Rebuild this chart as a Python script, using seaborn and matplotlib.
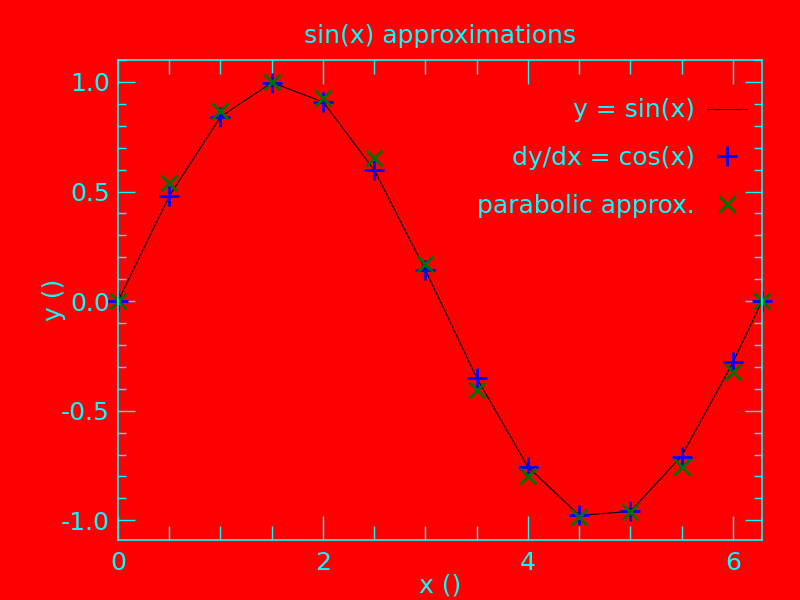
import numpy as np
import pandas as pd
import matplotlib
matplotlib.use('Agg')
import matplotlib.pyplot as plt
import seaborn as sns
from matplotlib.ticker import MultipleLocator, FormatStrFormatter

# data
x_vals = [0.0, 0.5, 1.0, 1.5, 2.0, 2.5, 3.0, 3.5, 4.0, 4.5, 5.0, 5.5, 6.0, 6.283]
sin_vals = [0.0, 0.479, 0.841, 0.997, 0.909, 0.598, 0.141, -0.351, -0.757, -0.978, -0.959, -0.706, -0.279, 0.0]
cos_int_vals = [0.0, 0.479, 0.841, 0.997, 0.909, 0.598, 0.141, -0.351, -0.757, -0.978, -0.959, -0.711, -0.279, 0.0]
parab_vals = [0.0, 0.54, 0.868, 1.0, 0.928, 0.655, 0.169, -0.405, -0.80, -0.985, -0.962, -0.757, -0.324, 0.0]

BG = '#ff0000'
FG = '#00ffff'
FS = 18

sns.set_style('white')
plt.rcParams['font.family'] = ['DejaVu Sans']
plt.rcParams['axes.unicode_minus'] = False

df = pd.DataFrame({'x': x_vals, 'sin': sin_vals, 'cos': cos_int_vals, 'parab': parab_vals})

fig = plt.figure(figsize=(8, 6), dpi=100, facecolor=BG)
ax = fig.add_axes([0.1475, 0.1, 0.805, 0.8])
ax.set_facecolor(BG)

sns.lineplot(data=df, x='x', y='sin', ax=ax, color='black', linewidth=0.8,
             sort=False, errorbar=None, label='y = sin(x)')
sns.lineplot(data=df, x='x', y='cos', ax=ax, color='blue', linestyle='none',
             marker='+', markersize=14, markeredgewidth=2, markeredgecolor='blue',
             sort=False, errorbar=None, label='dy/dx = cos(x)', clip_on=False)
sns.lineplot(data=df, x='x', y='parab', ax=ax, color='#007000', linestyle='none',
             marker='x', markersize=11, markeredgewidth=2, markeredgecolor='#007000',
             sort=False, errorbar=None, label='parabolic approx.', clip_on=False)

ax.set_xlim(0, 6.283)
ax.set_ylim(-1.09, 1.10)
ax.xaxis.set_major_locator(MultipleLocator(2))
ax.xaxis.set_minor_locator(MultipleLocator(0.5))
ax.yaxis.set_major_locator(MultipleLocator(0.5))
ax.yaxis.set_minor_locator(MultipleLocator(0.1))
ax.yaxis.set_major_formatter(FormatStrFormatter('%.1f'))
ax.xaxis.set_major_formatter(FormatStrFormatter('%d'))

ax.tick_params(which='both', direction='in', top=True, right=True,
               bottom=True, left=True,
               colors=FG, labelcolor=FG, labelsize=FS, width=1)
ax.tick_params(axis='x', which='major', length=17, pad=8)
ax.tick_params(axis='x', which='minor', length=10)
ax.tick_params(axis='y', which='major', length=12, pad=6)
ax.tick_params(axis='y', which='minor', length=6)
for sp in ax.spines.values():
    sp.set_color(FG)
    sp.set_linewidth(1.2)

ax.set_title('sin(x) approximations', color=FG, fontsize=FS, pad=12)
ax.set_xlabel('x ()', color=FG, fontsize=FS, labelpad=-1)
ax.set_ylabel('y ()', color=FG, fontsize=FS, labelpad=-4)

leg = ax.legend(loc='upper right', bbox_to_anchor=(0.993, 0.941),
                borderaxespad=0, frameon=False, markerfirst=False,
                fontsize=FS, labelcolor=FG, handlelength=1.6,
                handletextpad=0.5, labelspacing=0.95)

fig.savefig('out.png', dpi=100, facecolor=BG)
